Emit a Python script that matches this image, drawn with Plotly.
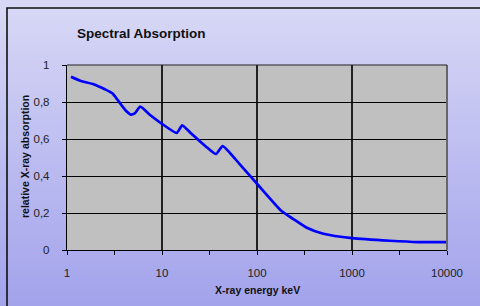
import plotly.graph_objects as go

# Data
energy_kev = [1.1, 1.4, 1.9, 2.5, 3.0, 3.5, 4.1, 4.7, 5.2, 5.9, 7.5, 10, 14.3, 16.3,
              20, 25, 30, 37, 43.5, 66, 100, 180, 240, 330, 500, 1000, 2500, 5000, 10000]
absorption = [0.937, 0.914, 0.896, 0.869, 0.847, 0.803, 0.757, 0.732, 0.740, 0.775,
              0.730, 0.682, 0.633, 0.674, 0.633, 0.588, 0.553, 0.519, 0.562, 0.463,
              0.358, 0.212, 0.168, 0.122, 0.088, 0.064, 0.050, 0.043, 0.043]

x_tick_vals = [1, 10, 100, 1000, 10000]
x_tick_text = ["1", "10", "100", "1000", "10000"]
x_minor_vals = [3.1623, 31.623, 316.23, 3162.3]
y_tick_vals = [0, 0.2, 0.4, 0.6, 0.8, 1.0]
y_tick_text = ["0", "0,2", "0,4", "0,6", "0,8", "1"]

W, H = 480, 306
L, R, T, B = 67, 33, 65, 56
PW, PH = W - L - R, H - T - B


def px_x(px):
    return (px - L) / PW


def px_y(py):
    return (H - B - py) / PH


fig = go.Figure()
fig.add_trace(go.Scatter(
    x=energy_kev, y=absorption, mode="lines",
    line=dict(color="#0000ff", width=2.7, shape="spline", smoothing=0.5),
    hoverinfo="skip", showlegend=False,
))

shapes = []
# vertical gradient background
top = (0xd8, 0xd8, 0xf6)
bot = (0xa3, 0xa3, 0xec)
n = 60
for i in range(n):
    t = i / (n - 1)
    c = tuple(round(top[k] + (bot[k] - top[k]) * t) for k in range(3))
    y0 = i * H / n
    y1 = (i + 1) * H / n + 1
    shapes.append(dict(type="rect", xref="paper", yref="paper",
                       x0=px_x(-5), x1=px_x(W + 5), y0=px_y(y1), y1=px_y(y0),
                       fillcolor="rgb(%d,%d,%d)" % c, line=dict(width=0), layer="below"))
# plot area gray
shapes.append(dict(type="rect", xref="paper", yref="paper", x0=0, x1=1, y0=0, y1=1,
                   fillcolor="#c0c0c0", line=dict(width=0), layer="below"))
# outer frame border
shapes.append(dict(type="rect", xref="paper", yref="paper",
                   x0=px_x(7), x1=px_x(W + 10), y0=px_y(H + 10), y1=px_y(8),
                   line=dict(color="#111111", width=1.6), fillcolor="rgba(0,0,0,0)",
                   layer="above"))
# plot area right shadow edge and top edge
shapes.append(dict(type="line", xref="paper", yref="paper", x0=1, x1=1, y0=0, y1=1,
                   line=dict(color="#666666", width=2), layer="above"))
shapes.append(dict(type="line", xref="paper", yref="paper", x0=0, x1=1, y0=1, y1=1,
                   line=dict(color="#222222", width=1.2), layer="above"))

font = "Liberation Sans, Arial, sans-serif"
fig.update_layout(
    width=W, height=H,
    margin=dict(l=L, r=R, t=T, b=B, pad=0),
    paper_bgcolor="#c4c4f2",
    plot_bgcolor="#c0c0c0",
    shapes=shapes,
    font=dict(family=font, size=11, color="#222222"),
    xaxis=dict(
        type="log", range=[0, 4], tickmode="array", tickvals=x_tick_vals,
        ticktext=x_tick_text, showgrid=True, gridcolor="#222222", gridwidth=1.2,
        ticks="outside", ticklen=4, tickcolor="#000000", tickwidth=1,
        showline=True, linecolor="#000000", linewidth=1.2,
        ticklabelstandoff=8, zeroline=False, fixedrange=True,
        minor=dict(tickmode="array", tickvals=x_minor_vals, ticks="outside",
                   ticklen=4, tickcolor="#000000", tickwidth=1, showgrid=False),
        tickfont=dict(size=11.5, color="#222222"),
    ),
    yaxis=dict(
        range=[0, 1], tickmode="array", tickvals=y_tick_vals, ticktext=y_tick_text,
        showgrid=True, gridcolor="#000000", gridwidth=1,
        ticks="outside", ticklen=4, tickcolor="#000000", tickwidth=1,
        showline=True, linecolor="#000000", linewidth=1.2,
        ticklabelstandoff=10, zeroline=False, fixedrange=True,
        tickfont=dict(size=11.5, color="#222222"),
    ),
    annotations=[
        dict(text="<b>Spectral Absorption</b>", xref="paper", yref="paper",
             x=px_x(141), y=px_y(33), xanchor="center", yanchor="middle",
             showarrow=False, font=dict(size=13.5, color="#111111", family=font)),
        dict(text="<b>relative X-ray absorption</b>", xref="paper", yref="paper",
             x=px_x(25), y=px_y(157), xanchor="center", yanchor="middle",
             textangle=-90, showarrow=False,
             font=dict(size=10.5, color="#111111", family=font)),
        dict(text="<b>X-ray energy keV</b>", xref="paper", yref="paper",
             x=px_x(257), y=px_y(290), xanchor="center", yanchor="middle",
             showarrow=False, font=dict(size=10.5, color="#111111", family=font)),
    ],
)

fig.write_html(
    "out.html",
    config={"displayModeBar": False, "staticPlot": True},
    post_script="document.body.style.margin='0px';document.body.style.overflow='hidden';",
)
